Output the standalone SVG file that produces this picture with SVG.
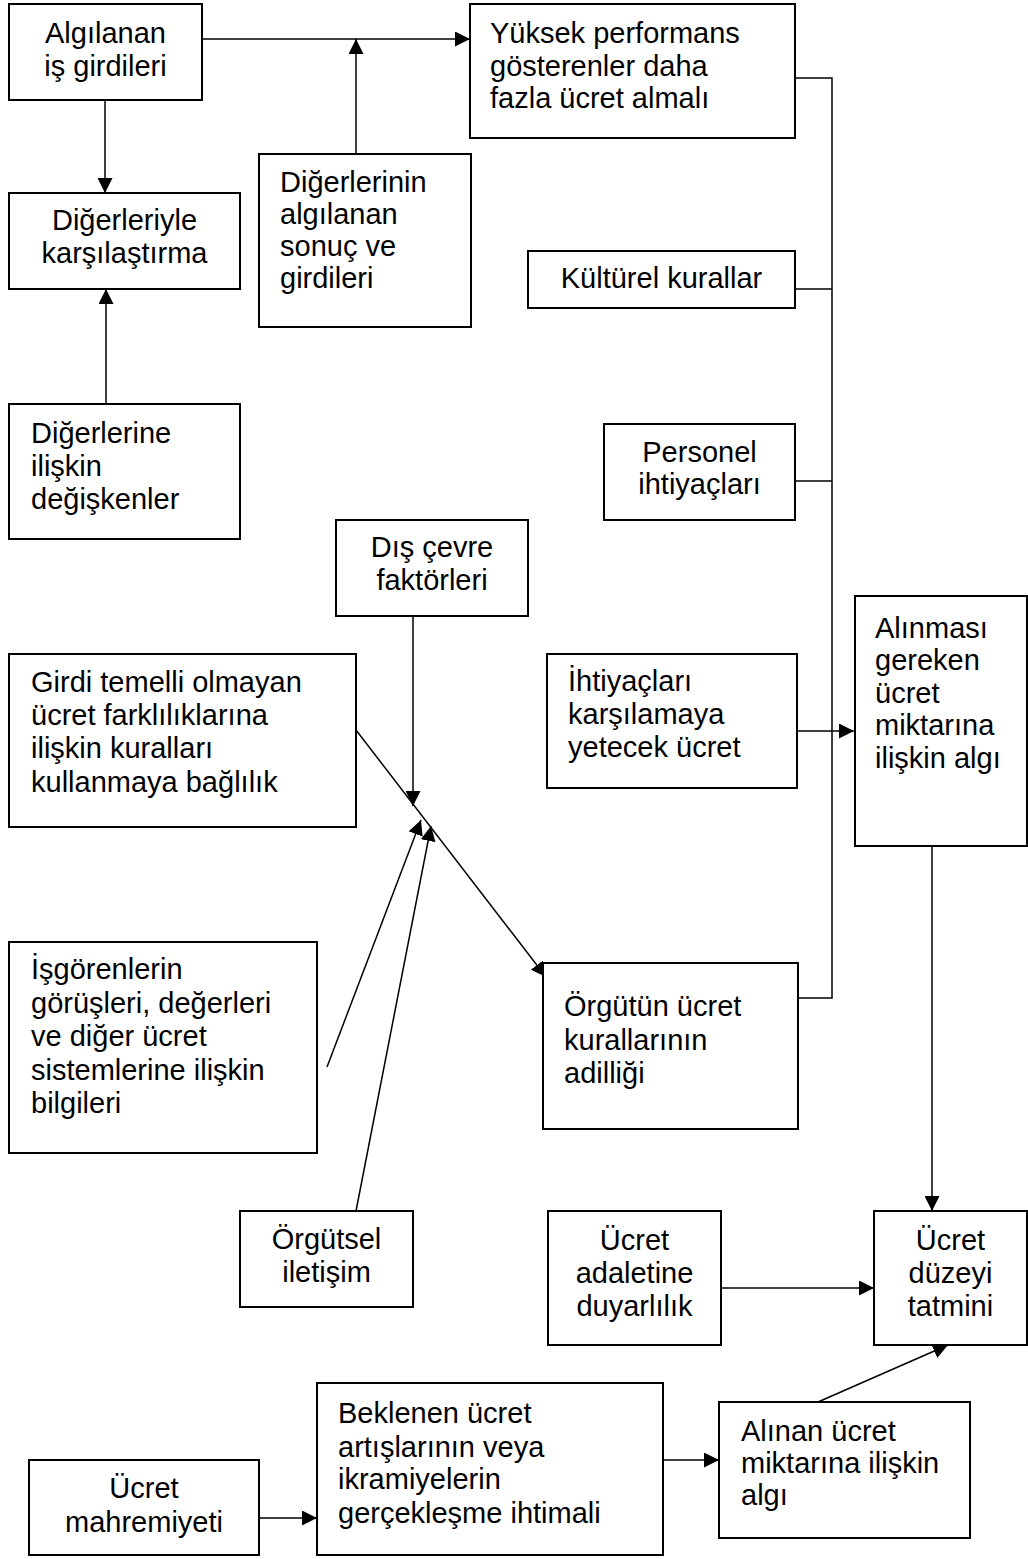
<svg xmlns="http://www.w3.org/2000/svg" width="1028" height="1559" viewBox="0 0 1028 1559">
<defs>
<style>
.box{fill:#fff;stroke:#000;stroke-width:2}
.t{font-family:"Liberation Sans",Arial,sans-serif;font-size:29px;fill:#000}
.c{text-anchor:middle}
.ln{fill:none;stroke:#000;stroke-width:1.5}
</style>
<marker id="ah" markerUnits="userSpaceOnUse" markerWidth="16" markerHeight="15" refX="15" refY="7.5" orient="auto">
<path d="M0,0 L15,7.5 L0,15 z" fill="#000"/>
</marker>
</defs>
<rect width="1028" height="1559" fill="#fff"/>

<g id="connectors">
<line class="ln" x1="202" y1="39" x2="470" y2="39" marker-end="url(#ah)"/>
<line class="ln" x1="356" y1="154" x2="356" y2="39" marker-end="url(#ah)"/>
<line class="ln" x1="105" y1="100" x2="105" y2="193" marker-end="url(#ah)"/>
<line class="ln" x1="106" y1="404" x2="106" y2="289" marker-end="url(#ah)"/>
<polyline class="ln" points="795,78 832,78 832,998 798,998"/>
<line class="ln" x1="795" y1="289" x2="832" y2="289"/>
<line class="ln" x1="795" y1="481" x2="832" y2="481"/>
<line class="ln" x1="797" y1="731" x2="854" y2="731" marker-end="url(#ah)"/>
<line class="ln" x1="413" y1="616" x2="413" y2="806" marker-end="url(#ah)"/>
<line class="ln" x1="356" y1="730" x2="546" y2="977" marker-end="url(#ah)"/>
<line class="ln" x1="327" y1="1067" x2="421" y2="820" marker-end="url(#ah)"/>
<line class="ln" x1="356" y1="1211" x2="431" y2="826" marker-end="url(#ah)"/>
<line class="ln" x1="932" y1="846" x2="932" y2="1211" marker-end="url(#ah)"/>
<line class="ln" x1="721" y1="1288" x2="874" y2="1288" marker-end="url(#ah)"/>
<line class="ln" x1="818" y1="1402" x2="948" y2="1345" marker-end="url(#ah)"/>
<line class="ln" x1="663" y1="1460" x2="719" y2="1460" marker-end="url(#ah)"/>
<line class="ln" x1="259" y1="1518" x2="317" y2="1518" marker-end="url(#ah)"/>
</g>

<g id="n1">
<rect class="box" x="9" y="4" width="193" height="96"/>
<text class="t c" x="105.5" y="43">Algılanan</text>
<text class="t c" x="105.5" y="76">iş girdileri</text>
</g>
<g id="n2">
<rect class="box" x="9" y="193" width="231" height="96"/>
<text class="t c" x="124.5" y="230">Diğerleriyle</text>
<text class="t c" x="124.5" y="263">karşılaştırma</text>
</g>
<g id="n3">
<rect class="box" x="259" y="154" width="212" height="173"/>
<text class="t" x="280" y="192">Diğerlerinin</text>
<text class="t" x="280" y="224">algılanan</text>
<text class="t" x="280" y="256">sonuç ve</text>
<text class="t" x="280" y="288">girdileri</text>
</g>
<g id="n4">
<rect class="box" x="470" y="4" width="325" height="134"/>
<text class="t" x="490" y="43">Yüksek performans</text>
<text class="t" x="490" y="76">gösterenler daha</text>
<text class="t" x="490" y="108">fazla ücret almalı</text>
</g>
<g id="n5">
<rect class="box" x="528" y="251" width="267" height="57"/>
<text class="t c" x="661.5" y="288">Kültürel kurallar</text>
</g>
<g id="n6">
<rect class="box" x="604" y="424" width="191" height="96"/>
<text class="t c" x="699.5" y="462">Personel</text>
<text class="t c" x="699.5" y="494">ihtiyaçları</text>
</g>
<g id="n7">
<rect class="box" x="9" y="404" width="231" height="135"/>
<text class="t" x="31" y="443">Diğerlerine</text>
<text class="t" x="31" y="476">ilişkin</text>
<text class="t" x="31" y="509">değişkenler</text>
</g>
<g id="n8">
<rect class="box" x="336" y="520" width="192" height="96"/>
<text class="t c" x="432" y="557">Dış çevre</text>
<text class="t c" x="432" y="590">faktörleri</text>
</g>
<g id="n9">
<rect class="box" x="9" y="654" width="347" height="173"/>
<text class="t" x="31" y="692">Girdi temelli olmayan</text>
<text class="t" x="31" y="725">ücret farklılıklarına</text>
<text class="t" x="31" y="758">ilişkin kuralları</text>
<text class="t" x="31" y="792">kullanmaya bağlılık</text>
</g>
<g id="n10">
<rect class="box" x="547" y="654" width="250" height="134"/>
<text class="t" x="568" y="691">İhtiyaçları</text>
<text class="t" x="568" y="724">karşılamaya</text>
<text class="t" x="568" y="757">yetecek ücret</text>
</g>
<g id="n11">
<rect class="box" x="855" y="596" width="172" height="250"/>
<text class="t" x="875" y="638">Alınması</text>
<text class="t" x="875" y="670">gereken</text>
<text class="t" x="875" y="703">ücret</text>
<text class="t" x="875" y="735">miktarına</text>
<text class="t" x="875" y="768">ilişkin algı</text>
</g>
<g id="n12">
<rect class="box" x="9" y="942" width="308" height="211"/>
<text class="t" x="31" y="979">İşgörenlerin</text>
<text class="t" x="31" y="1013">görüşleri, değerleri</text>
<text class="t" x="31" y="1046">ve diğer ücret</text>
<text class="t" x="31" y="1080">sistemlerine ilişkin</text>
<text class="t" x="31" y="1113">bilgileri</text>
</g>
<g id="n13">
<rect class="box" x="543" y="963" width="255" height="166"/>
<text class="t" x="564" y="1016">Örgütün ücret</text>
<text class="t" x="564" y="1050">kurallarının</text>
<text class="t" x="564" y="1083">adilliği</text>
</g>
<g id="n14">
<rect class="box" x="240" y="1211" width="173" height="96"/>
<text class="t c" x="326.5" y="1249">Örgütsel</text>
<text class="t c" x="326.5" y="1282">iletişim</text>
</g>
<g id="n15">
<rect class="box" x="548" y="1211" width="173" height="134"/>
<text class="t c" x="634.5" y="1250">Ücret</text>
<text class="t c" x="634.5" y="1283">adaletine</text>
<text class="t c" x="634.5" y="1316">duyarlılık</text>
</g>
<g id="n16">
<rect class="box" x="874" y="1211" width="153" height="134"/>
<text class="t c" x="950.5" y="1250">Ücret</text>
<text class="t c" x="950.5" y="1283">düzeyi</text>
<text class="t c" x="950.5" y="1316">tatmini</text>
</g>
<g id="n17">
<rect class="box" x="317" y="1383" width="346" height="172"/>
<text class="t" x="338" y="1423">Beklenen ücret</text>
<text class="t" x="338" y="1457">artışlarının veya</text>
<text class="t" x="338" y="1489">ikramiyelerin</text>
<text class="t" x="338" y="1523">gerçekleşme ihtimali</text>
</g>
<g id="n18">
<rect class="box" x="719" y="1402" width="251" height="136"/>
<text class="t" x="741" y="1441">Alınan ücret</text>
<text class="t" x="741" y="1473">miktarına ilişkin</text>
<text class="t" x="741" y="1505">algı</text>
</g>
<g id="n19">
<rect class="box" x="29" y="1460" width="230" height="95"/>
<text class="t c" x="144" y="1498">Ücret</text>
<text class="t c" x="144" y="1532">mahremiyeti</text>
</g>
</svg>
